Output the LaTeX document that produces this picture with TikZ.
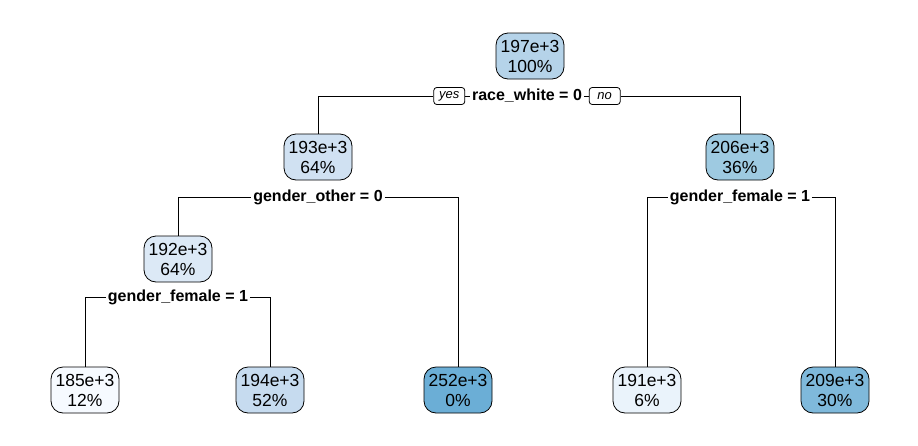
\documentclass[tikz,border=0pt]{standalone}
\usepackage{fontspec}
\setmainfont{Liberation Sans}
\usepackage{tikz}
\usetikzlibrary{positioning}
\definecolor{bA}{RGB}{181,211,233}
\definecolor{bB}{RGB}{208,225,242}
\definecolor{bC}{RGB}{158,202,225}
\definecolor{bD}{RGB}{220,233,246}
\definecolor{bE}{RGB}{246,250,255}
\definecolor{bF}{RGB}{198,219,239}
\definecolor{bG}{RGB}{107,174,214}
\definecolor{bH}{RGB}{234,243,251}
\definecolor{bI}{RGB}{127,185,219}
\tikzset{leaf/.style={draw, rounded corners=12pt, minimum width=68pt, minimum height=46pt, align=center, inner sep=1pt, font=\fontsize{17.5}{20}\selectfont},
split/.style={fill=white, inner sep=1.5pt, font=\fontsize{16}{18}\selectfont\bfseries},
yn/.style={draw, fill=white, rounded corners=3pt, inner sep=2pt, minimum width=31pt, minimum height=17pt, font=\fontsize{13}{14}\selectfont\itshape}}

\begin{document}
\begin{tikzpicture}[x=1pt, y=-1pt, line width=0.8pt]
\useasboundingbox (0,0) rectangle (918,445);
\node[leaf, fill=bA] (n1) at (530,56) {197e+3\\100\%};
\node[leaf, fill=bB] (n2) at (318,157) {193e+3\\64\%};
\node[leaf, fill=bC] (n3) at (740,157) {206e+3\\36\%};
\node[leaf, fill=bD] (n4) at (178,259) {192e+3\\64\%};
\node[leaf, fill=bE] (n8) at (85,390) {185e+3\\12\%};
\node[leaf, fill=bF] (n9) at (270,390) {194e+3\\52\%};
\node[leaf, fill=bG] (n5) at (458,390) {252e+3\\0\%};
\node[leaf, fill=bH] (n6) at (647,390) {191e+3\\6\%};
\node[leaf, fill=bI] (n7) at (835,390) {209e+3\\30\%};

\node[split] (s1) at (527,96) {race\_white = 0};
\node[yn, left=5pt of s1] (yes) {yes};
\node[yn, right=5pt of s1] (no) {no};
\node[split] (s2) at (318,197) {gender\_other = 0};
\node[split] (s3) at (740,197) {gender\_female = 1};
\node[split] (s4) at (178,297) {gender\_female = 1};

\draw (n2.north) |- (yes.west);
\draw (yes) -- (s1);
\draw (s1) -- (no);
\draw (no.east) -| (n3.north);
\draw (n4.north) |- (s2.west);
\draw (s2.east) -| (n5.north);
\draw (n6.north) |- (s3.west);
\draw (s3.east) -| (n7.north);
\draw (n8.north) |- (s4.west);
\draw (s4.east) -| (n9.north);
\end{tikzpicture}
\end{document}
